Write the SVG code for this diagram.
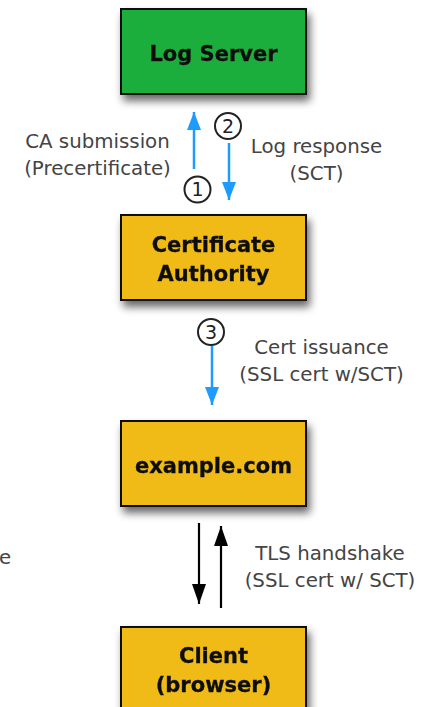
<svg xmlns="http://www.w3.org/2000/svg" width="429" height="707" viewBox="0 0 429 707">
<defs>
<filter id="sh" x="-20%" y="-20%" width="150%" height="160%">
<feGaussianBlur in="SourceAlpha" stdDeviation="4"/>
<feOffset dx="3" dy="6" result="b"/>
<feComponentTransfer><feFuncA type="linear" slope="0.6"/></feComponentTransfer>
<feMerge><feMergeNode/><feMergeNode in="SourceGraphic"/></feMerge>
</filter>
<marker id="ab" viewBox="0 0 18 16" refX="18" refY="8" markerWidth="18" markerHeight="16" markerUnits="userSpaceOnUse" orient="auto"><path d="M0,1 L18,8 L0,15 z" fill="#1e9bff"/></marker>
<marker id="ak" viewBox="0 0 20 16" refX="20" refY="8" markerWidth="20" markerHeight="16" markerUnits="userSpaceOnUse" orient="auto"><path d="M0,1 L20,8 L0,15 z" fill="#000"/></marker>
</defs>
<style>
.box{stroke:#111;stroke-width:2}
.t{font-family:"DejaVu Sans",Verdana,sans-serif;font-weight:bold;font-size:21px;fill:#111;stroke:#111;stroke-width:0.3;text-anchor:middle}
.l{font-family:"DejaVu Sans",Verdana,sans-serif;font-size:19.8px;fill:#444;text-anchor:middle}
.n{font-family:"DejaVu Sans",Verdana,sans-serif;font-size:19px;fill:#222;text-anchor:middle}
.c{fill:#fff;stroke:#222;stroke-width:2}
.blue{stroke:#1e9bff;stroke-width:2.5;fill:none}
.blk{stroke:#000;stroke-width:2.2;fill:none}
</style>
<rect width="429" height="707" fill="#fff"/>
<g id="log-server" filter="url(#sh)">
<rect class="box" x="121" y="9" width="185" height="85" fill="#1fae3d"/>
<text class="t" x="213.5" y="61">Log Server</text>
</g>
<g id="ca" filter="url(#sh)">
<rect class="box" x="121" y="215" width="185" height="85" fill="#f0bb14"/>
<text class="t" x="213.5" y="252">Certificate</text>
<text class="t" x="213.5" y="281">Authority</text>
</g>
<g id="example" filter="url(#sh)">
<rect class="box" x="121" y="421" width="185" height="85" fill="#f0bb14"/>
<text class="t" x="213.5" y="473">example.com</text>
</g>
<g id="client" filter="url(#sh)">
<rect class="box" x="121" y="627" width="185" height="95" fill="#f0bb14"/>
<text class="t" x="213.5" y="663">Client</text>
<text class="t" x="213.5" y="692">(browser)</text>
</g>
<g id="connectors">
<line class="blue" x1="194" y1="169" x2="194" y2="112" marker-end="url(#ab)"/>
<line class="blue" x1="229" y1="143" x2="229" y2="200" marker-end="url(#ab)"/>
<line class="blue" x1="212" y1="346" x2="212" y2="405" marker-end="url(#ab)"/>
<line class="blk" x1="199" y1="523" x2="199" y2="604" marker-end="url(#ak)"/>
<line class="blk" x1="221" y1="608" x2="221" y2="526" marker-end="url(#ak)"/>
</g>
<g id="labels">
<circle class="c" cx="197.5" cy="189.5" r="13"/><text class="n" x="197.5" y="196">1</text>
<circle class="c" cx="228" cy="126" r="13"/><text class="n" x="228" y="132.5">2</text>
<circle class="c" cx="211" cy="332" r="13"/><text class="n" x="211" y="338.5">3</text>
<text class="l" x="97.5" y="148">CA submission</text>
<text class="l" x="97.5" y="175">(Precertificate)</text>
<text class="l" x="316.5" y="153">Log response</text>
<text class="l" x="316.5" y="180">(SCT)</text>
<text class="l" x="321.5" y="354">Cert issuance</text>
<text class="l" x="321.5" y="381">(SSL cert w/SCT)</text>
<text class="l" x="330" y="560">TLS handshake</text>
<text class="l" x="330" y="587">(SSL cert w/ SCT)</text>
<text class="l" x="-1" y="564" style="text-anchor:start">e</text>
</g>
</svg>
